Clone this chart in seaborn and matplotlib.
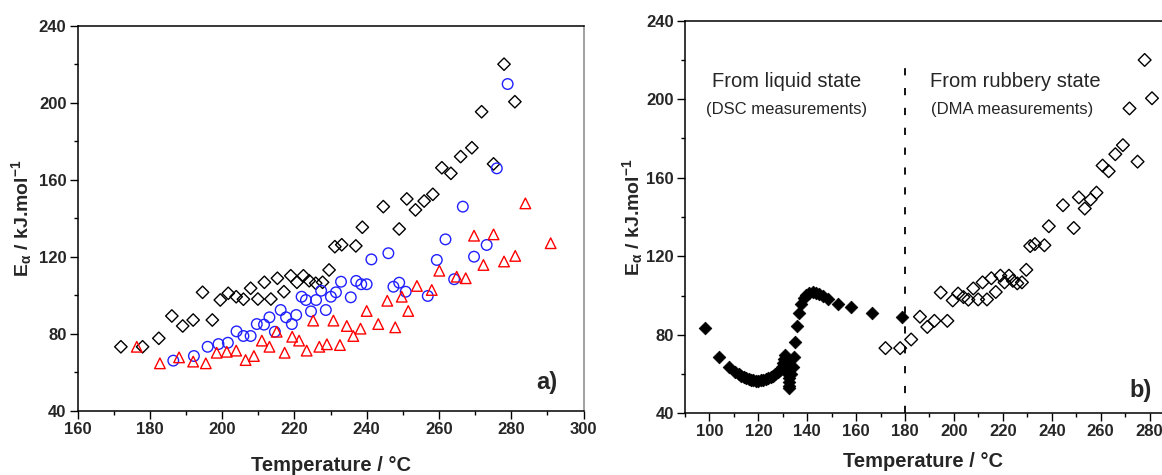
import numpy as np
import pandas as pd
import matplotlib
matplotlib.use("Agg")
import matplotlib.pyplot as plt
import seaborn as sns
from matplotlib.ticker import MultipleLocator

# ---------------- data ----------------
# black open diamonds (rubbery state, DMA) - shared by both panels
rub_T = [172.0, 178.0, 182.5, 186.1, 189.1, 192.0, 194.6, 197.3, 199.5, 201.7,
         203.9, 205.9, 207.9, 209.9, 211.7, 213.5, 215.3, 217.1, 219.0, 220.7,
         222.5, 224.1, 225.9, 227.8, 229.6, 231.2, 233.1, 237.0, 238.8, 244.6,
         249.0, 251.1, 253.5, 255.9, 258.3, 260.8, 263.3, 266.0, 269.1, 271.8,
         275.1, 278.0, 281.0]
rub_E = [73.2, 73.2, 77.6, 89.2, 84.0, 87.1, 101.5, 87.1, 97.5, 101.0,
         99.2, 97.9, 103.6, 98.0, 106.7, 98.0, 108.8, 101.8, 110.1, 106.7,
         110.1, 107.5, 106.2, 106.7, 113.1, 125.2, 126.2, 125.6, 135.3, 146.0,
         134.4, 150.0, 144.3, 148.9, 152.4, 166.2, 163.3, 172.0, 176.6, 195.3,
         168.2, 220.0, 200.5]

# blue open circles
blue_T = [186.5, 192.2, 196.0, 199.0, 201.6, 204.0, 205.9, 207.9, 209.6, 211.6,
          213.1, 214.6, 216.2, 217.7, 219.3, 220.5, 222.0, 223.2, 224.6, 226.0,
          227.4, 228.7, 230.1, 231.5, 232.9, 235.6, 237.1, 238.5, 240.0, 241.3,
          246.0, 247.4, 249.0, 250.8, 256.9, 259.4, 261.8, 264.2, 266.6, 269.7,
          273.2, 276.0, 279.0]
blue_E = [66.0, 68.4, 73.2, 74.6, 75.3, 81.2, 78.8, 78.8, 85.0, 84.7,
          88.5, 81.0, 92.3, 88.5, 85.0, 89.7, 99.2, 97.5, 91.6, 97.5,
          102.3, 92.3, 99.2, 101.5, 107.0, 98.9, 107.4, 105.7, 105.7, 118.6,
          121.8, 104.4, 106.5, 101.8, 99.6, 118.3, 129.0, 108.3, 146.0, 120.0,
          126.1, 165.9, 209.7]

# red open triangles
red_T = [176.4, 182.8, 188.1, 192.0, 195.5, 198.5, 201.3, 203.9, 206.5, 208.8,
         211.0, 213.1, 215.1, 217.3, 219.4, 221.3, 223.4, 225.2, 226.9, 229.0,
         230.8, 232.6, 234.5, 236.3, 238.3, 240.0, 243.2, 245.7, 247.9, 249.7,
         251.5, 253.9, 258.0, 260.1, 264.9, 267.4, 269.7, 272.3, 275.1, 278.0,
         281.1, 283.9, 290.9]
red_E = [73.2, 64.6, 67.7, 65.5, 64.6, 70.1, 70.6, 71.2, 66.3, 68.4,
         76.4, 73.2, 81.0, 70.1, 78.4, 76.4, 71.2, 86.8, 73.2, 74.5,
         86.8, 74.1, 84.0, 78.8, 82.6, 91.8, 85.0, 97.1, 83.3, 99.2,
         91.8, 104.8, 102.7, 112.7, 109.6, 108.8, 130.9, 115.7, 131.6, 117.5,
         120.4, 147.7, 127.0]

# filled diamonds (liquid state, DSC)
dsc_T = [98.0, 104.1, 107.8, 110.6, 112.0, 113.0, 114.0, 115.0, 116.0, 117.0,
         118.0, 119.0, 120.0, 121.0, 122.0, 123.0, 124.0, 125.0, 126.0, 127.0,
         128.0, 129.0, 129.6, 130.1, 130.6, 131.1, 131.6, 132.0, 132.2, 132.3,
         132.4, 132.4, 132.5, 132.5, 133.2, 134.3, 134.4, 135.0, 135.9, 136.8,
         137.5, 138.5, 139.5, 140.8, 142.2, 143.6, 145.0, 146.6, 148.4, 152.5,
         158.0, 166.5, 178.8]
dsc_E = [83.3, 68.8, 63.7, 61.2, 59.8, 59.0, 58.3, 57.8, 57.3, 57.0,
         56.8, 56.7, 56.7, 56.8, 57.0, 57.4, 57.9, 58.5, 59.2, 60.0,
         61.0, 62.2, 63.5, 65.5, 67.5, 69.5, 67.0, 64.5, 62.0, 60.0,
         58.0, 56.0, 54.0, 52.7, 60.0, 63.5, 68.5, 76.4, 84.5, 91.2,
         95.9, 98.5, 100.1, 101.3, 101.8, 101.5, 101.0, 100.0, 98.4, 95.9,
         93.9, 91.2, 89.2]

x_ticks_a = [160, 180, 200, 220, 240, 260, 280, 300]
x_ticks_b = [100, 120, 140, 160, 180, 200, 220, 240, 260, 280]
y_ticks = [40, 80, 120, 160, 200, 240]

# ---------------- style ----------------
sns.set_theme(style="white")
plt.rcParams["font.family"] = ["Liberation Sans", "DejaVu Sans"]
plt.rcParams["mathtext.fontset"] = "custom"
plt.rcParams["mathtext.rm"] = "Liberation Sans:bold"
plt.rcParams["mathtext.it"] = "Liberation Sans:bold"
plt.rcParams["mathtext.bf"] = "Liberation Sans:bold"

fig = plt.figure(figsize=(11.62, 4.75), dpi=100)
ax1 = fig.add_axes([0.0667, 0.1354, 0.4355, 0.8105])
ax2 = fig.add_axes([0.5895, 0.1299, 0.4103, 0.8265])

rub = pd.DataFrame({"T": rub_T, "E": rub_E})
blue = pd.DataFrame({"T": blue_T, "E": blue_E})
red = pd.DataFrame({"T": red_T, "E": red_E})
dsc = pd.DataFrame({"T": dsc_T, "E": dsc_E})

# ---- panel a ----
sns.scatterplot(data=rub, x="T", y="E", ax=ax1, marker="D", s=40,
                facecolor="none", edgecolor="black", linewidth=1.0, zorder=3)
sns.scatterplot(data=blue, x="T", y="E", ax=ax1, marker="o", s=58,
                facecolor="none", edgecolor="#2020ff", linewidth=1.0, zorder=3)
sns.scatterplot(data=red, x="T", y="E", ax=ax1, marker="^", s=58,
                facecolor="none", edgecolor="#ff0000", linewidth=1.0, zorder=3)

# ---- panel b ----
sns.scatterplot(data=dsc, x="T", y="E", ax=ax2, marker="D", s=42,
                color="black", edgecolor="black", linewidth=0.5, zorder=3)
sns.scatterplot(data=rub, x="T", y="E", ax=ax2, marker="D", s=42,
                facecolor="none", edgecolor="black", linewidth=1.0, zorder=3)
ax2.axvline(180, ymin=0, ymax=0.9, color="black", lw=1.3,
            linestyle=(0, (4, 7)), zorder=2)

ax2.text(131.4, 209, "From liquid state", ha="center", va="center", fontsize=14.5)
ax2.text(131.4, 195, "(DSC measurements)", ha="center", va="center", fontsize=12)
ax2.text(225.0, 209, "From rubbery state", ha="center", va="center", fontsize=14.5)
ax2.text(223.8, 195, "(DMA measurements)", ha="center", va="center", fontsize=12)

ax1.text(0.948, 0.056, "a)", transform=ax1.transAxes, ha="right", va="baseline",
         fontsize=17, fontweight="bold")
ax2.text(0.979, 0.042, "b)", transform=ax2.transAxes, ha="right", va="baseline",
         fontsize=17, fontweight="bold")

ax1.set_xlim(160, 300)
ax2.set_xlim(90, 285)
for ax in (ax1, ax2):
    ax.set_ylim(40, 240)
    ax.set_yticks(y_ticks)
    ax.yaxis.set_minor_locator(MultipleLocator(20))
    ax.xaxis.set_minor_locator(MultipleLocator(10))
    ax.tick_params(which="both", direction="out", bottom=True, left=True,
                   top=False, right=False, color="black")
    ax.tick_params(which="major", length=6, width=1.0, labelsize=12, pad=2)
    ax.tick_params(which="minor", length=3, width=1.0)
    for sp in ax.spines.values():
        sp.set_color("black")
        sp.set_linewidth(1.1)
    ax.set_xlabel("Temperature / °C", fontsize=14.5, fontweight="bold")
    ax.set_ylabel(r"E$_{\alpha}$ / kJ.mol$^{-1}$", fontsize=14, fontweight="bold")

ax1.set_xticks(x_ticks_a)
ax2.set_xticks(x_ticks_b)
for ax in (ax1, ax2):
    for lab in ax.get_xticklabels() + ax.get_yticklabels():
        lab.set_fontweight("bold")

ax1.spines["right"].set_color("#888888")
ax2.spines["right"].set_visible(False)

ax1.xaxis.set_label_coords(0.5, -0.118)
ax2.xaxis.set_label_coords(0.5, -0.098)
ax1.yaxis.set_label_coords(-0.086, 0.5)
ax2.yaxis.set_label_coords(-0.083, 0.5)

fig.savefig("out.png", dpi=100)
